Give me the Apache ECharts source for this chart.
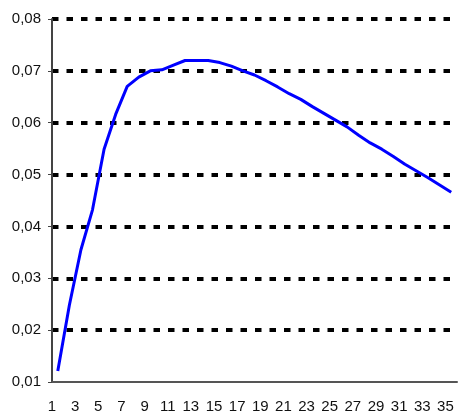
<!DOCTYPE html>
<html>
<head>
<meta charset="utf-8">
<script src="https://cdn.jsdelivr.net/npm/echarts@6/dist/echarts.min.js"></script>
<style>
html,body{margin:0;padding:0;background:#fff;}
#chart{width:458px;height:418px;}
</style>
</head>
<body>
<div id="chart"></div>
<script>
var categories = ['1','2','3','4','5','6','7','8','9','10','11','12','13','14','15','16','17','18','19','20','21','22','23','24','25','26','27','28','29','30','31','32','33','34','35'];
var seriesValues = [0.0121,0.0248,0.0355,0.0432,0.0549,0.0616,0.0670,0.0688,0.0700,0.0702,0.0711,0.0720,0.0720,0.0720,0.0716,0.0709,0.0700,0.0692,0.0681,0.0669,0.0656,0.0645,0.0631,0.0618,0.0605,0.0592,0.0576,0.0561,0.0549,0.0535,0.0520,0.0507,0.0494,0.0480,0.0466];
var yMin = 0.01, yMax = 0.08, yStep = 0.01;

var chart = echarts.init(document.getElementById('chart'), null, {renderer:'canvas'});
chart.setOption({
  animation: false,
  backgroundColor: '#ffffff',
  grid: {left: 52, right: 1, top: 19, bottom: 36, containLabel: false},
  xAxis: {
    type: 'category',
    data: categories,
    boundaryGap: true,
    axisLine: {show: true, lineStyle: {color: '#555555', width: 2}},
    axisTick: {show: false},
    axisLabel: {
      interval: 1,
      fontFamily: 'Liberation Sans, Arial, sans-serif',
      fontSize: 15,
      color: '#111',
      margin: 17,
      padding: [0, 11.6, 0, 0]
    },
    splitLine: {show: false}
  },
  yAxis: {
    type: 'value',
    min: yMin,
    max: yMax,
    interval: yStep,
    axisLine: {show: true, lineStyle: {color: '#444444', width: 2}},
    axisTick: {show: true, length: 4, lineStyle: {color: '#444444', width: 1}},
    axisLabel: {
      fontFamily: 'Liberation Sans, Arial, sans-serif',
      fontSize: 15,
      color: '#111',
      margin: 11,
      formatter: function (v) { return v.toFixed(2).replace('.', ','); }
    },
    splitLine: {
      show: true,
      showMinLine: false,
      showMaxLine: true,
      lineStyle: {color: '#000000', width: 4, type: [6.5, 8]}
    }
  },
  series: [{
    type: 'line',
    data: seriesValues,
    symbol: 'none',
    smooth: false,
    lineStyle: {color: '#0000FF', width: 3},
    itemStyle: {color: '#0000FF'}
  }]
});
</script>
</body>
</html>
